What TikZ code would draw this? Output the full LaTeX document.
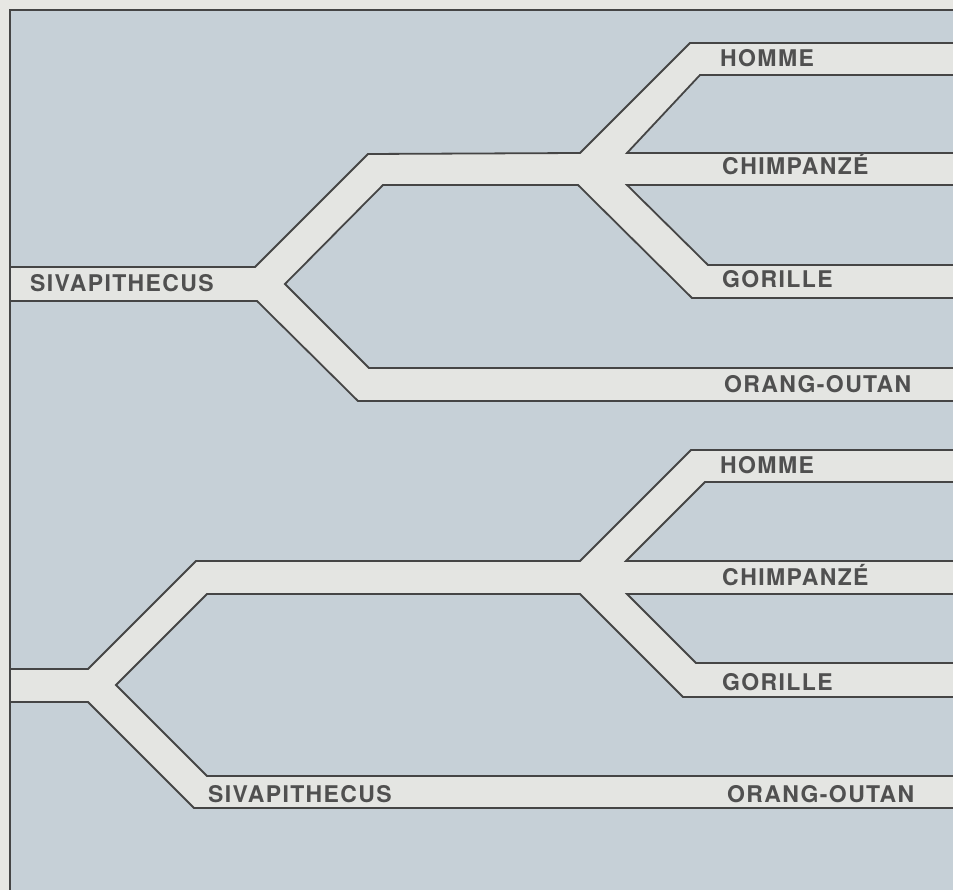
\documentclass[tikz,border=0pt]{standalone}
\usepackage{fontspec}
\setmainfont{TeX Gyre Heros}[LetterSpace=6]
\definecolor{margin}{HTML}{E7E7E3}
\definecolor{bg}{HTML}{C6D0D7}
\definecolor{band}{HTML}{E4E5E2}
\definecolor{ink}{HTML}{454545}
\definecolor{txt}{HTML}{505050}
\tikzset{
  tree/.style={fill=band, draw=ink, line width=1.8pt, line join=miter},
  frameline/.style={draw=ink, line width=1.8pt},
  lbl/.style={anchor=base west, inner sep=0pt, text=txt, font=\bfseries\fontsize{23}{24}\selectfont}
}
\begin{document}
\begin{tikzpicture}[x=1pt,y=-1pt]
\useasboundingbox (0,0) rectangle (953,890);
\fill[margin] (0,0) rectangle (953,890);
\fill[bg] (10,10) rectangle (953,890);
\begin{scope}
\clip (10,10) rectangle (953,890);
% upper tree
\draw[tree] (10,267) -- (255,267) -- (368,154) -- (580,153) -- (690,43) -- (970,43)
  -- (970,75) -- (700,75) -- (627,153) -- (970,153) -- (970,185) -- (627,185)
  -- (708,265) -- (970,265) -- (970,298) -- (692,298) -- (578,185) -- (383,185)
  -- (285,284) -- (369,368) -- (970,368) -- (970,401) -- (358,401) -- (257,301)
  -- (10,301) -- cycle;
% lower tree
\draw[tree] (10,669) -- (88,669) -- (196,561) -- (580,561) -- (691,450) -- (970,450)
  -- (970,482) -- (705,482) -- (626,561) -- (970,561) -- (970,594) -- (627,594)
  -- (696,663) -- (970,663) -- (970,697) -- (683,697) -- (580,594) -- (207,594)
  -- (116,685) -- (207,776) -- (970,776) -- (970,808) -- (194,808) -- (88,702)
  -- (10,702) -- cycle;
\end{scope}
\draw[frameline] (10,890) -- (10,10) -- (953,10);
% labels, upper tree
\node[lbl] (sivA) at (30,292) {SIVAPITHECUS};
\node[lbl] (homA) at (720,67) {HOMME};
\node[lbl] (chiA) at (722,175) {CHIMPANZÉ};
\node[lbl] (gorA) at (722,288) {GORILLE};
\node[lbl] (oraA) at (724,392) {ORANG-OUTAN};
% labels, lower tree
\node[lbl] (homB) at (720,473) {HOMME};
\node[lbl] (chiB) at (722,585) {CHIMPANZÉ};
\node[lbl] (gorB) at (722,690) {GORILLE};
\node[lbl] (sivB) at (208,802) {SIVAPITHECUS};
\node[lbl] (oraB) at (727,802) {ORANG-OUTAN};
\end{tikzpicture}
\end{document}
